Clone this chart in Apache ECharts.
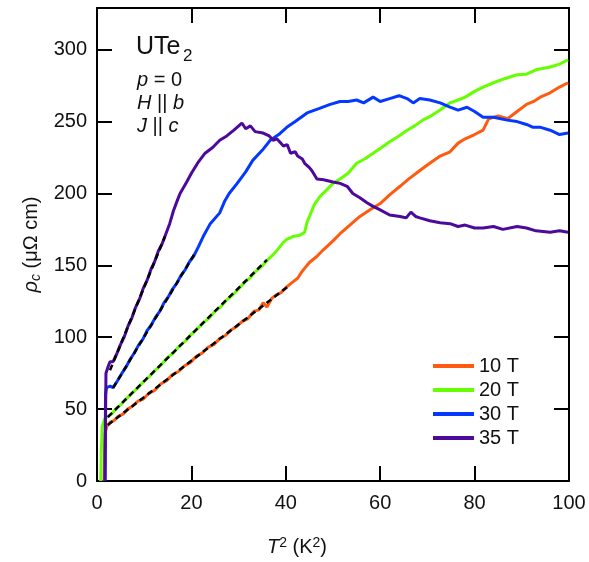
<!DOCTYPE html>
<html>
<head>
<meta charset="utf-8">
<script src="https://cdn.jsdelivr.net/npm/echarts@6/dist/echarts.min.js"></script>
<style>
html,body{margin:0;padding:0;background:#fff;}
#chart{width:589px;height:562px;}
</style>
</head>
<body>
<div id="chart"></div>
<script>
// ---- data ----
const seriesNames = ['10 T', '20 T', '30 T', '35 T'];
const xTicks = [0, 20, 40, 60, 80, 100];
const yTicks = [0, 50, 100, 150, 200, 250, 300];

const t2_10 = [1.5,1.6,1.7,2.1,2.8,3.6,4.5,5.5,6.5,7.5,8.7,9.8,11,12.2,13.5,14.8,16,17.2,18.5,19.8,21,22.3,23.5,24.8,26,27.1,28.4,29.6,30.8,32,33.2,34.3,35.2,36,37,38,39,40.2,41.3,42.5,43.5,45,46.5,48,50,51.5,53.2,55.7,58,60,62,64.2,66,68.4,70.5,72.7,74.8,76.5,78,80,81.8,83,85,87,89,91,92.5,93.9,96,98,99.8];
const rho_10 = [0,20,33,38,41,42,45,46.5,50,52,55.5,57,61,63,67.5,70,74,76,80,82.5,86.5,89,93,95,99,101,105,107.5,111,113,118,119,124,121,127,129.5,131,135,138,141,146,152,156,161,167,172,177,184,189,193,199,205,210,216,221,226,229,235,238,241,244,252,254,252,257,262,264,267,270,274,277];

const t2_20 = [0.8,0.9,1.1,1.6,2.3,3.2,4.2,5.2,6.3,7.4,8.7,10,11.2,12.5,13.8,15,16.3,17.5,18.8,20,21.3,22.5,23.8,25,26.3,27.5,28.8,30,31.2,32.5,33.7,35,36.2,37.5,38.5,39.5,40.2,41.5,43,44,44.5,46,47.2,48.5,50,51.5,53.2,55,56.7,58.5,60.3,62,64,65.7,67.3,69,70.8,72.7,74.8,76.5,78,80,81.8,84,86.5,89,91,93,96,98,99.8];
const rho_20 = [0,20,38,43,45,47,51,53.5,57.5,61,65,69.5,73,77.5,81.5,86,89.5,94,97.5,102,106,110,113.5,118,121.5,126,129.5,133.5,138,141.5,146,149.5,154,158,162,166,168,170,171,173,180,192,197.7,202,207,210,214,221,224,228,232,236,240,244,247,251,254,258,263,265,267,271,274,277,280,282.6,283,286,288,290,293];

const t2_30 = [1.7,1.8,2.0,2.8,3.4,4.3,5.2,6.1,7,7.9,8.8,9.7,10.6,11.5,12.4,13.3,14.2,15.1,16,16.9,17.8,18.7,19.6,20.5,21.5,22.5,24,26,27.1,28,29.7,31.5,33,35,36.7,38.5,40.2,42,44.5,47,49.4,51.5,53.2,55,56.5,58.5,60,62,64,65.7,67,68.4,70.5,72.7,74.8,76.5,78.4,80,81.8,84,86.9,89,91,92.4,94,96,98,99.8];
const rho_30 = [0,60,65,66,65,69.5,74.5,79,84.5,89,94.5,98.5,104.5,108.5,114,118,124,128,133.5,137.5,143,147,152.5,156.5,163,170,179,186.5,195,200,207,215,223,230,237,241,246,250,256,259,262,264,264,265,263,267,264,266,268,266,263,266,265,263,260,258,260,257,253,253,251,250,248,246,246,244,241,242];

const t2_35 = [1.7,1.8,1.9,2.4,2.75,3.4,4.2,5,5.8,6.6,7.4,8.2,9,9.8,10.6,11.4,12.2,13,13.8,14.6,15.4,16.2,17,17.6,18.3,19,20,21.5,22.9,24.5,26,27.5,29,30.7,31.5,32.5,33.5,35.2,36.5,37.3,38.1,39.5,40.3,41,42,42.5,43.5,44,45,45.5,46.6,48,50,51.5,53,54.2,55.7,57.2,58.5,60,62,64.2,65.5,66.5,67.5,68.4,70.5,72.7,74.8,76.5,78,80,81.8,84,86,89,91,93,96,98,99.8];
const rho_35 = [0,40,75,80,83,83,88.5,95,100.5,108,113.5,121,126.5,134,139.5,147,152.5,160,165,172,179,188,195,200,204,208,214,222,228,232,237,240,244,249,245,247,243,242,240,237,238,233,234,228,229,226,224,221,218,216,210,209.5,208,207,205,200,197,193.5,191,188.6,185,184,183,187,184,183,181,179.6,179,177,178,176,176,177,175,177,176,174,173,174,173];

// linear fits (dashed), endpoints
const fit_10_x = [2.3, 40.9], fit_10_y = [39, 136.4];
const fit_20_x = [2.3, 36.0], fit_20_y = [44.5, 153.8];
const fit_30_x = [3.4, 20.8], fit_30_y = [64.7, 158.7];
const fit_35_x = [2.75, 14.4], fit_35_y = [77, 170];

// ---- build ----
const colors = ['#ff5a0f', '#66ff00', '#0538ff', '#4b0a9b'];
const pairs = (xs, ys) => xs.map((x, i) => [x, ys[i]]);
const curves = [[t2_10, rho_10], [t2_20, rho_20], [t2_30, rho_30], [t2_35, rho_35]];
const fits = [[fit_10_x, fit_10_y], [fit_20_x, fit_20_y], [fit_30_x, fit_30_y], [fit_35_x, fit_35_y]];
const FONT = 'Liberation Sans';

const series = [];
curves.forEach((c, i) => {
  series.push({
    name: seriesNames[i], type: 'line', data: pairs(c[0], c[1]),
    showSymbol: false, symbol: 'none', smooth: false,
    lineStyle: { color: colors[i], width: 3 }, itemStyle: { color: colors[i] },
    z: 2 + i, animation: false
  });
});
fits.forEach((f, i) => {
  series.push({
    name: 'fit' + i, type: 'line', data: pairs(f[0], f[1]),
    showSymbol: false, symbol: 'none',
    lineStyle: { color: '#000', width: 2.5, type: [6, 4] },
    z: 10, animation: false, silent: true
  });
});

const axisLineStyle = { show: true, onZero: false, lineStyle: { color: '#000', width: 2 } };
const tickStyle = { show: true, inside: true, length: 15, lineStyle: { color: '#000', width: 2 } };
const italic = { fontStyle: 'italic', fontSize: 20, fontFamily: FONT, fill: '#111' };

const chart = echarts.init(document.getElementById('chart'), null, { renderer: 'canvas' });
chart.setOption({
  animation: false,
  backgroundColor: '#fff',
  grid: { left: 97, right: 20, top: 8, bottom: 81 },
  xAxis: [{
    type: 'value', min: xTicks[0], max: xTicks[xTicks.length - 1], interval: 20,
    position: 'bottom',
    axisLine: axisLineStyle, axisTick: tickStyle, splitLine: { show: false },
    axisLabel: { fontSize: 20, fontFamily: FONT, color: '#111', margin: 12 },
    name: '{i|T}{sup|2} (K{sup|2})', nameLocation: 'middle', nameGap: 55,
    nameTextStyle: {
      fontSize: 20, fontFamily: FONT, color: '#111', padding: [0, 72, 0, 0],
      rich: {
        i: { fontSize: 20, fontStyle: 'italic', fontFamily: FONT, color: '#111' },
        sup: { fontSize: 14, fontFamily: FONT, color: '#111', verticalAlign: 'top', padding: [0, 0, 8, 0] }
      }
    }
  }, {
    type: 'value', min: xTicks[0], max: xTicks[xTicks.length - 1], interval: 20,
    position: 'top', axisLine: axisLineStyle, axisTick: tickStyle,
    axisLabel: { show: false }, splitLine: { show: false }
  }],
  yAxis: [{
    type: 'value', min: 0, max: 329, interval: 50,
    axisLine: axisLineStyle, axisTick: tickStyle, splitLine: { show: false },
    axisLabel: { fontSize: 20, fontFamily: FONT, color: '#111', margin: 10, showMaxLabel: false,
      formatter: v => (yTicks.indexOf(v) >= 0 ? String(v) : '') },
    name: '{i|ρ}{sub|c} (μΩ cm)', nameLocation: 'middle', nameGap: 49, nameRotate: 90,
    nameTextStyle: {
      fontSize: 20, fontFamily: FONT, color: '#111',
      rich: {
        i: { fontSize: 20, fontStyle: 'italic', fontFamily: FONT, color: '#111' },
        sub: { fontSize: 14, fontStyle: 'italic', fontFamily: FONT, color: '#111', verticalAlign: 'bottom', padding: [8, 0, 0, 0] }
      }
    }
  }, {
    type: 'value', min: 0, max: 329, interval: 50, position: 'right',
    axisLine: axisLineStyle, axisTick: tickStyle,
    axisLabel: { show: false }, splitLine: { show: false }
  }],
  legend: {
    data: seriesNames, orient: 'vertical', left: 428, top: 351,
    icon: 'rect', itemWidth: 41, itemHeight: 4, itemGap: 4,
    textStyle: { fontSize: 20, fontFamily: FONT, color: '#111', lineHeight: 20 },
    selectedMode: false
  },
  graphic: [
    { type: 'text', x: 136, y: 47.5, style: { text: 'UTe', font: '25px "Liberation Sans"', fill: '#111', verticalAlign: 'middle' } },
    { type: 'text', x: 183, y: 56, style: { text: '2', font: '17px "Liberation Sans"', fill: '#111', verticalAlign: 'middle' } },
    { type: 'text', x: 137, y: 80, style: { text: '{i|p} = 0', font: '20px "Liberation Sans"', fill: '#111', verticalAlign: 'middle', rich: { i: italic } } },
    { type: 'text', x: 137, y: 103, style: { text: '{i|H} || {i|b}', font: '20px "Liberation Sans"', fill: '#111', verticalAlign: 'middle', rich: { i: italic } } },
    { type: 'text', x: 137, y: 126, style: { text: '{i|J} || {i|c}', font: '20px "Liberation Sans"', fill: '#111', verticalAlign: 'middle', rich: { i: italic } } }
  ],
  series: series
});
</script>
</body>
</html>
